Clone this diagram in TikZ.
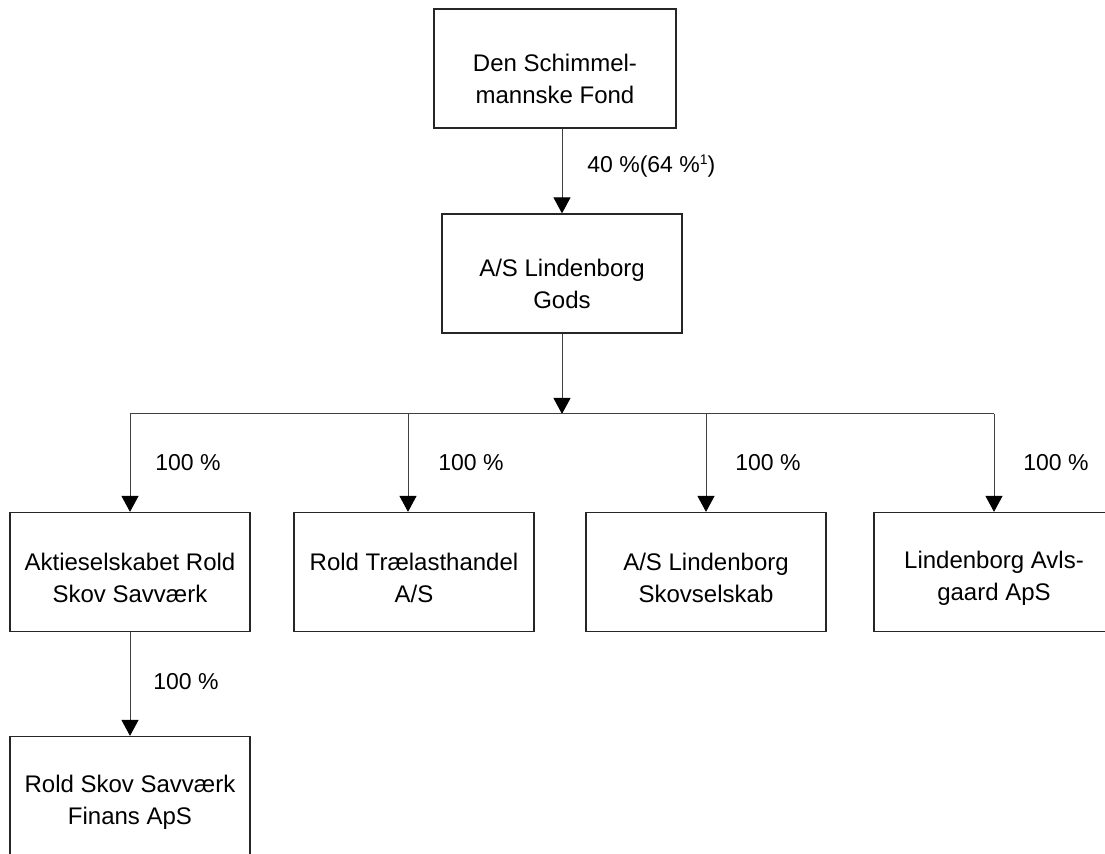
\documentclass[tikz,border=0pt]{standalone}
\usepackage{fontspec}
\setmainfont{Liberation Sans}
\usetikzlibrary{arrows.meta}
\begin{document}
\begin{tikzpicture}[x=0.5pt,y=-0.5pt,
  orgbox/.style={draw=black!85,line width=0.6pt,fill=white,minimum width=120pt,minimum height=59.5pt,inner sep=0pt},
  orgtext/.style={align=center,inner sep=0pt,font=\fontsize{12}{16}\selectfont},
  conn/.style={draw=black!75,line width=0.5pt},
  arr/.style={conn,-{Triangle[width=8.5pt,length=8pt,color=black]}},
  pct/.style={anchor=west,inner sep=0pt,font=\fontsize{11.5}{14}\selectfont}]
\useasboundingbox (0,0) rectangle (1105,854);
\clip (0,0) rectangle (1105,854);
\node[orgbox,minimum width=121pt] (top) at (555,68.5) {};
\node[orgtext] (top-t) at ([yshift=-5pt]top.center) {Den Schimmel-\\mannske Fond};
\node[orgbox] (mid) at (562,273.5) {};
\node[orgtext] (mid-t) at ([yshift=-5pt]mid.center) {A/S Lindenborg\\Gods};
\node[orgbox] (b1) at (130,572) {};
\node[orgtext] (b1-t) at ([yshift=-3pt]b1.center) {Aktieselskabet Rold\\Skov Savværk};
\node[orgbox] (b2) at (414,572) {};
\node[orgtext] (b2-t) at ([yshift=-3pt]b2.center) {Rold Trælasthandel\\A/S};
\node[orgbox] (b3) at (706,572) {};
\node[orgtext] (b3-t) at ([yshift=-3pt]b3.center) {A/S Lindenborg\\Skovselskab};
\node[orgbox] (b4) at (994,572) {};
\node[orgtext] (b4-t) at ([yshift=-3pt]b4.center) {Lindenborg Avls-\\gaard ApS};
\node[orgbox] (b5) at (130,796) {};
\node[orgtext] (b5-t) at ([yshift=-3pt]b5.center) {Rold Skov Savværk\\Finans ApS};
% connectors
\draw[arr] (mid.north |- top.south) -- (mid.north);
\coordinate (bar) at (562,414);
\coordinate (c1) at (130,414);
\coordinate (c2) at (408,414);
\coordinate (c3) at (706,414);
\coordinate (c4) at (994,414);
\draw[arr] (mid.south) -- (bar);
\draw[conn] (c1) -- (c4);
\draw[arr] (c1) -- (b1.north);
\draw[arr] (c2) -- (c2 |- b2.north);
\draw[arr] (c3) -- (b3.north);
\draw[arr] (c4) -- (b4.north);
\draw[arr] (b1.south) -- (b5.north);
% labels
\node[pct] (l0) at (587,166) {40 \%(64 \%{\fontsize{7}{8}\selectfont\raisebox{4pt}{1}})};
\node[pct] (l1) at (155,463) {100 \%};
\node[pct] (l2) at (438,463) {100 \%};
\node[pct] (l3) at (735,463) {100 \%};
\node[pct] (l4) at (1023,463) {100 \%};
\node[pct] (l5) at (153,682) {100 \%};
\end{tikzpicture}
\end{document}
